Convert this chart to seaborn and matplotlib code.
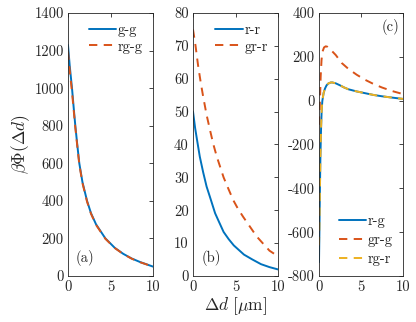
import numpy as np
import pandas as pd
import matplotlib
matplotlib.use("Agg")
import matplotlib.pyplot as plt
import seaborn as sns

# ---- data ----
xa = [0, 0.2, 0.47, 0.7, 0.86, 1.1, 1.33, 1.7, 2.24, 2.7, 3.3, 4.4, 5.5, 6.5, 7.5, 8.5, 10]
gg = [1230, 1120, 1000, 880, 800, 695, 600, 500, 400, 335, 275, 200, 150, 118, 93, 74, 50]
rgg = [1195, 1095, 980, 868, 790, 688, 594, 495, 396, 332, 272, 198, 149, 117, 92, 73, 50]

xb_rr = [0, 0.25, 0.5, 0.8, 1.2, 1.6, 2, 2.6, 3, 3.6, 4.2, 4.8, 5.4, 6, 7, 8, 9, 10]
rr = [50, 45, 41, 36.3, 31.5, 27.2, 24, 19.1, 16.8, 13.4, 11.2, 9.3, 7.9, 6.5, 5, 3.6, 2.7, 2.0]
xb_grr = [0, 0.3, 0.6, 0.9, 1.2, 1.6, 2, 2.4, 2.8, 3.6, 4.2, 4.75, 5.3, 5.9, 6.7, 7.5, 8.3, 9, 10]
grr = [75, 70, 64, 59, 54.5, 49, 44.4, 40, 36.3, 30, 26.3, 23, 20.4, 18, 15, 12, 9.7, 7.7, 6]

xc_rg = [0, 0.05, 0.1, 0.17, 0.25, 0.32, 0.4, 0.55, 0.71, 0.9, 1.1, 1.4, 1.6, 2, 2.5, 3, 3.5, 4.5, 5.5, 6.5, 7.5, 8.7, 10]
rg = [-737, -600, -430, -250, -120, -40, 0, 35, 55, 70, 78, 83, 83, 79, 70, 60, 52, 42, 34, 26, 20, 14, 8]
xc_grg = [0, 0.1, 0.2, 0.3, 0.4, 0.6, 0.8, 1.0, 1.3, 1.6, 2, 2.7, 3.5, 4.5, 5.5, 6.5, 7.5, 8.7, 10]
grg = [-110, -20, 110, 185, 222, 243, 248, 246, 236, 224, 208, 172, 145, 118, 95, 76, 60, 44, 30]
xc_rgr = [0, 0.05, 0.1, 0.17, 0.25, 0.32, 0.4, 0.55, 0.71, 0.9, 1.1, 1.4, 1.6, 2, 2.5, 3, 3.5, 4.5, 5.5, 6.5, 7.5, 8.7, 10]
rgr = [-660, -560, -430, -250, -120, -40, 0, 35, 55, 70, 78, 83, 83, 79, 70, 60, 52, 42, 34, 26, 20, 14, 8]

yt_a = [0, 200, 400, 600, 800, 1000, 1200, 1400]
yt_b = [0, 10, 20, 30, 40, 50, 60, 70, 80]
yt_c = [-800, -600, -400, -200, 0, 200, 400]
xt = [0, 5, 10]

sns.set_style("white")
plt.rcParams["font.family"] = ["serif"]
plt.rcParams["font.serif"] = ["cmr10", "DejaVu Serif"]
plt.rcParams["mathtext.fontset"] = "cm"
plt.rcParams["axes.unicode_minus"] = False
plt.rcParams["font.size"] = 10.5
plt.rcParams["lines.scale_dashes"] = False

BLUE = "#0072BD"
ORANGE = "#D95319"
YELLOW = "#EDB120"
DASH = (0, (6.0, 4.6))

fig = plt.figure(figsize=(4.16, 3.22), dpi=100)
W, H = 416, 322
def ax_at(l, r, t, b):
    return fig.add_axes([l / W, 1 - b / H, (r - l) / W, (b - t) / H])

axa = ax_at(68, 153, 13, 276)
axb = ax_at(193, 278, 13, 276)
axc = ax_at(319, 403, 13, 276)

def draw(ax, x, y, label, color, dashed):
    df = pd.DataFrame({"x": x, "y": y})
    sns.lineplot(data=df, x="x", y="y", ax=ax, color=color, lw=1.4,
                 label=label, estimator=None, sort=False)
    line = ax.get_lines()[-1]
    line.set_linestyle(DASH if dashed else "-")
    line.set_solid_joinstyle("round")
    line.set_dash_joinstyle("round")

draw(axa, xa, gg, "g-g", BLUE, False)
draw(axa, xa, rgg, "rg-g", ORANGE, True)
draw(axb, xb_rr, rr, "r-r", BLUE, False)
draw(axb, xb_grr, grr, "gr-r", ORANGE, True)
draw(axc, xc_rg, rg, "r-g", BLUE, False)
draw(axc, xc_grg, grg, "gr-g", ORANGE, True)
draw(axc, xc_rgr, rgr, "rg-r", YELLOW, True)

for ax, yt in [(axa, yt_a), (axb, yt_b), (axc, yt_c)]:
    ax.set_xlim(0, 10)
    ax.set_ylim(yt[0], yt[-1])
    ax.set_xticks(xt)
    ax.set_yticks(yt)
    ax.set_xlabel("")
    ax.set_ylabel("")
    ax.tick_params(direction="in", top=True, right=True, length=3,
                   width=0.6, colors="#262626", labelsize=10.5, pad=3)
    for s in ax.spines.values():
        s.set_linewidth(0.6)
        s.set_color("#262626")

axa.set_ylabel(r"$\beta\Phi(\Delta d)$", fontsize=12.5, labelpad=2)
axb.set_xlabel(r"$\Delta d\ [\mu\mathrm{m}]$", fontsize=12.5, labelpad=1)

leg_kw = dict(frameon=False, handlelength=1.9, handletextpad=0.1,
              fontsize=10.5, borderaxespad=0.3)
axa.legend(loc="upper right", labelspacing=0.2, **leg_kw)
axb.legend(loc="upper right", labelspacing=0.2, **leg_kw)
axc.legend(loc="lower right", labelspacing=0.35, **leg_kw)

axa.text(0.2, 0.07, "(a)", transform=axa.transAxes, ha="center", va="center", fontsize=10.5)
axb.text(0.22, 0.07, "(b)", transform=axb.transAxes, ha="center", va="center", fontsize=10.5)
axc.text(0.85, 0.945, "(c)", transform=axc.transAxes, ha="center", va="center", fontsize=10.5)

fig.savefig("out.png", dpi=100)
